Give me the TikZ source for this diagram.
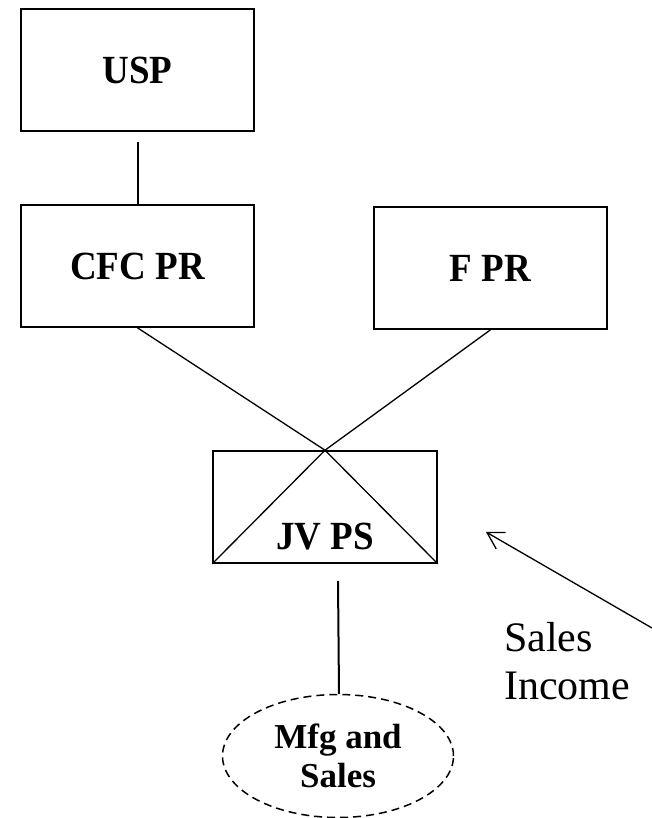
\documentclass[tikz,border=0pt]{standalone}
\usepackage{fontspec}
\usepackage{graphicx}
\setmainfont{Liberation Serif}
\usetikzlibrary{arrows.meta,shapes.geometric}
\newcommand{\tallbf}[1]{\scalebox{1}[1.08]{#1}}
\begin{document}
\begin{tikzpicture}[x=1pt,y=-1pt,
  box/.style={draw,line width=1.6pt,rectangle,inner sep=0pt,font=\fontsize{37}{40}\selectfont\bfseries},
  conn/.style={line width=1.3pt},
  vconn/.style={line width=2pt},
  lbl/.style={font=\fontsize{37}{40}\selectfont\bfseries,inner sep=0pt}]
\useasboundingbox (0,0) rectangle (651,818);
\node[box,minimum width=233pt,minimum height=122pt] (usp) at (137.5,70) {\tallbf{USP}};
\node[box,minimum width=233pt,minimum height=122pt] (cfc) at (137.5,266) {\tallbf{CFC PR}};
\node[box,minimum width=233pt,minimum height=122pt] (fpr) at (490.5,268) {\tallbf{F PR}};
\node[box,minimum width=224pt,minimum height=112pt] (jv) at (325,507) {};
\node[lbl] (jvl) at (325,537) {\tallbf{JV PS}};
\node[draw,ellipse,dashed,dash pattern=on 8pt off 5pt,line width=1.5pt,minimum width=231pt,minimum height=123pt,inner sep=0pt,align=center,font=\fontsize{35}{39}\selectfont\bfseries] (mfg) at (338,756) {Mfg and\\Sales};
\draw[vconn,shorten <=10pt] (usp) -- (cfc);
\draw[conn] (cfc.south) -- (jv.north);
\draw[conn] (fpr.south) -- (jv.north);
\draw[conn] (jv.north) -- (jv.south west);
\draw[conn] (jv.north) -- (jv.south east);
\draw[vconn] ([xshift=13pt,yshift=-17pt]jv.south) -- ([xshift=1pt]mfg.north);
\coordinate (src) at (652,628);
\node[inner sep=0pt,anchor=north west,align=left,font=\fontsize{42}{48}\selectfont] (si) at (504,622) {Sales\\Income};
\draw[line width=1.3pt,-{Straight Barb[length=16pt,width=19pt,line width=1.3pt]}] (src) -- (486,532) coordinate (tip);
\end{tikzpicture}
\end{document}
